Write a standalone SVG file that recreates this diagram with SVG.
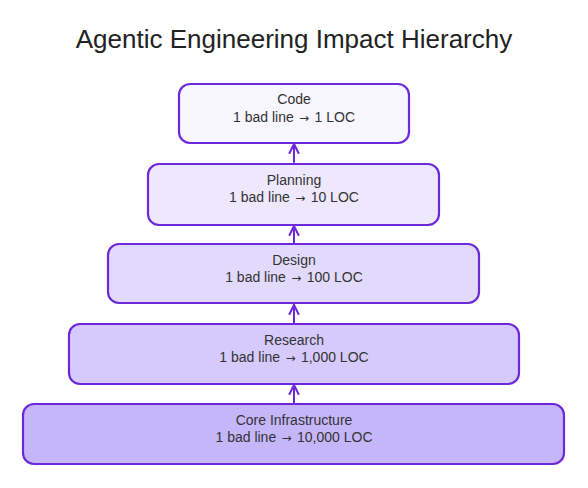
<svg xmlns="http://www.w3.org/2000/svg" width="588" height="488" viewBox="0 0 588 488">
<defs>
<style>
.box{stroke:#6d28d9;stroke-width:2.2;}
.t{font-family:"Liberation Sans",Arial,sans-serif;font-size:14px;fill:#333;text-anchor:middle;}
.ar{font-family:"DejaVu Sans",sans-serif;font-size:12px;}
.title{font-family:"Liberation Sans",Arial,sans-serif;font-size:26px;fill:#222;text-anchor:middle;}
.edge{stroke:#6d28d9;stroke-width:2;fill:none;stroke-linecap:round;stroke-linejoin:round;}
</style>
<marker id="ah" viewBox="0 0 12 12" refX="11" refY="6" markerWidth="12" markerHeight="12" markerUnits="userSpaceOnUse" orient="auto">
<path d="M2,1.5 L11,6 L2,10.5" fill="none" stroke="#6d28d9" stroke-width="2" stroke-linecap="round" stroke-linejoin="round"/>
</marker>
</defs>
<rect width="588" height="488" fill="#ffffff"/>
<text class="title" x="294" y="48">Agentic Engineering Impact Hierarchy</text>
<g id="connectors">
<line class="edge" x1="294" y1="162" x2="294" y2="144" marker-end="url(#ah)"/>
<line class="edge" x1="294" y1="243" x2="294" y2="226" marker-end="url(#ah)"/>
<line class="edge" x1="294" y1="323" x2="294" y2="305" marker-end="url(#ah)"/>
<line class="edge" x1="294" y1="403" x2="294" y2="385" marker-end="url(#ah)"/>
</g>
<g id="code">
<rect class="box" x="179" y="84" width="230" height="59" rx="11" fill="#f8f6fe"/>
<text class="t" x="294" y="104">Code</text>
<text class="t" x="294" y="121.5">1 bad line <tspan class="ar" dx="1.5">→</tspan><tspan dx="1.5"> 1 LOC</tspan></text>
</g>
<g id="planning">
<rect class="box" x="148" y="164" width="291" height="61" rx="11" fill="#ede8fc"/>
<text class="t" x="294" y="184.5">Planning</text>
<text class="t" x="294" y="202">1 bad line <tspan class="ar" dx="1.5">→</tspan><tspan dx="1.5"> 10 LOC</tspan></text>
</g>
<g id="design">
<rect class="box" x="108" y="244" width="371" height="59" rx="11" fill="#e2dafc"/>
<text class="t" x="294" y="264.5">Design</text>
<text class="t" x="294" y="282">1 bad line <tspan class="ar" dx="1.5">→</tspan><tspan dx="1.5"> 100 LOC</tspan></text>
</g>
<g id="research">
<rect class="box" x="69" y="324" width="450" height="60" rx="11" fill="#d5cafb"/>
<text class="t" x="294" y="344.5">Research</text>
<text class="t" x="294" y="362">1 bad line <tspan class="ar" dx="1.5">→</tspan><tspan dx="1.5"> 1,000 LOC</tspan></text>
</g>
<g id="core">
<rect class="box" x="23" y="404" width="541" height="60" rx="11" fill="#c5b6fa"/>
<text class="t" x="294" y="424.5">Core Infrastructure</text>
<text class="t" x="294" y="442">1 bad line <tspan class="ar" dx="1.5">→</tspan><tspan dx="1.5"> 10,000 LOC</tspan></text>
</g>
</svg>
